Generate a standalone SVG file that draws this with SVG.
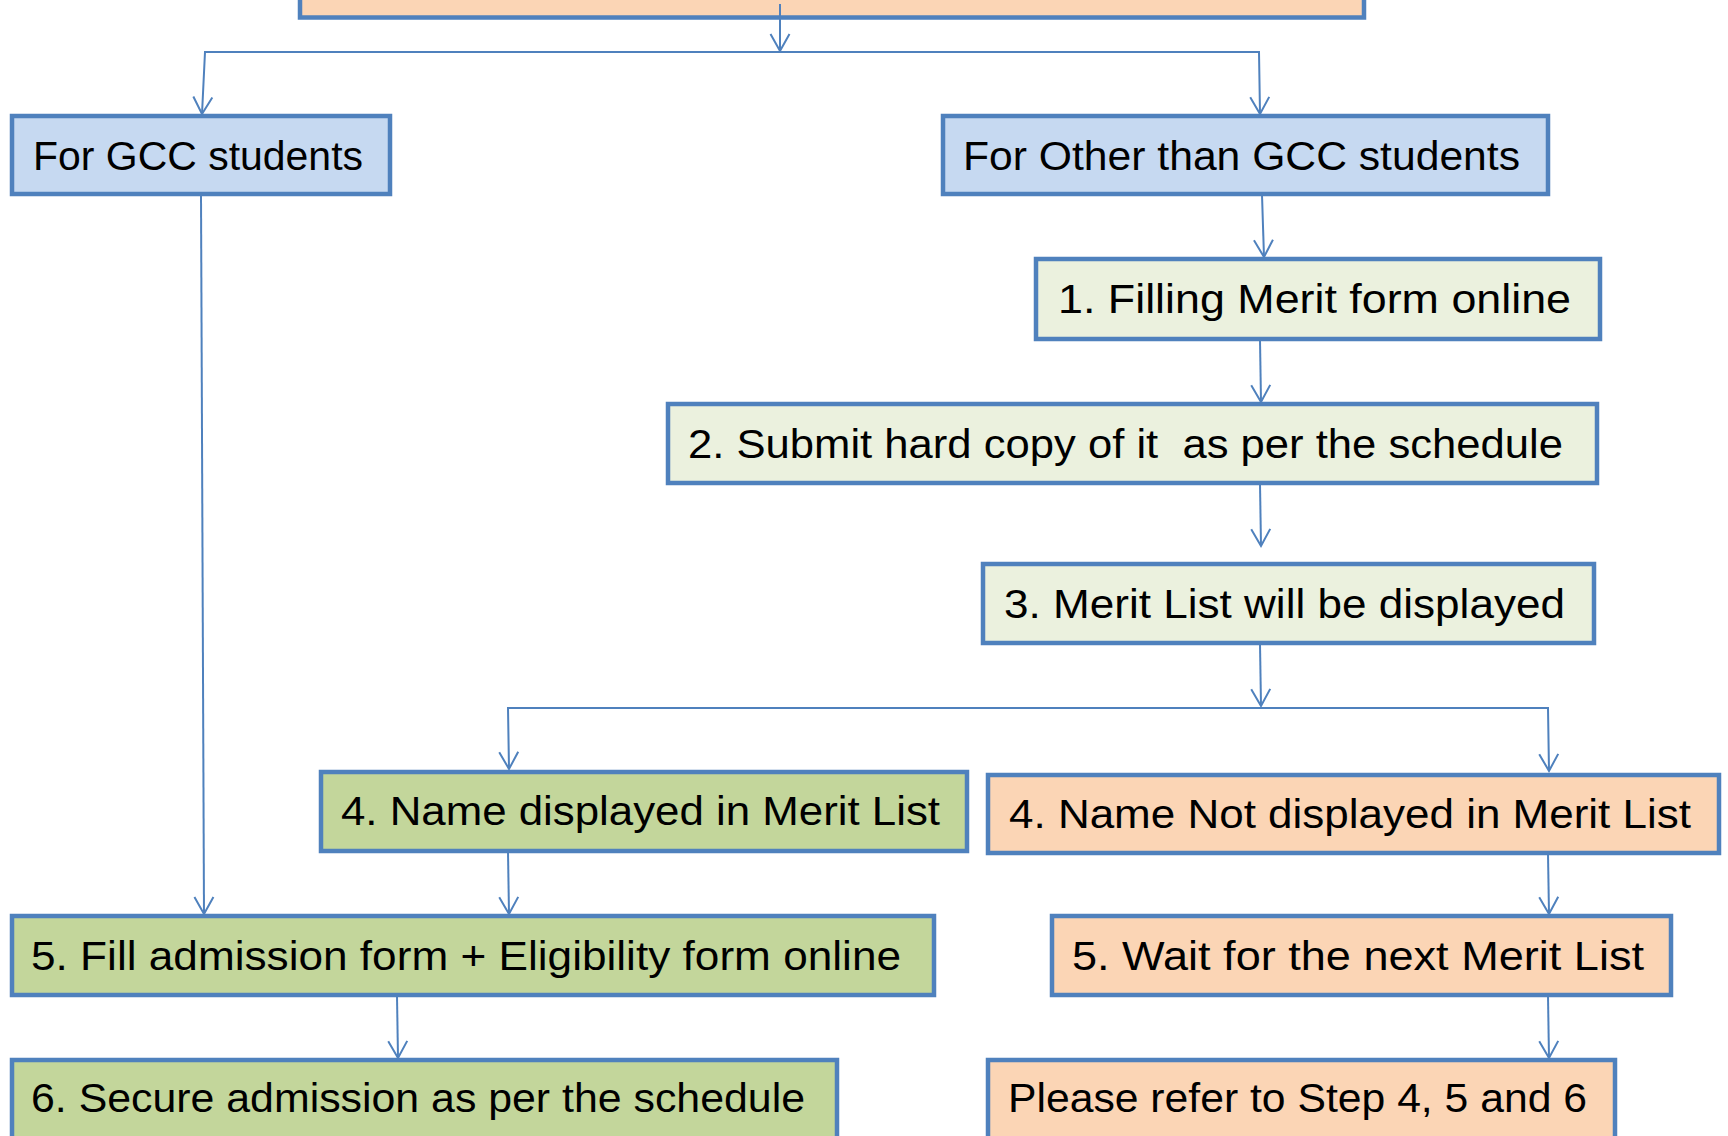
<svg xmlns="http://www.w3.org/2000/svg" width="1728" height="1136" viewBox="0 0 1728 1136">
<defs>
<style>
.box{stroke:#4F81BD;stroke-width:4.5}
.blue{fill:#C6D9F1}
.pale{fill:#EBF1DE}
.green{fill:#C3D69B}
.peach{fill:#FBD5B5}
.lbl{font-family:"Liberation Sans",Arial,sans-serif;font-size:40px;fill:#000;white-space:pre}
.c{fill:none;stroke:#4F81BD;stroke-width:2}
</style>
<marker id="arr" markerUnits="userSpaceOnUse" markerWidth="24" markerHeight="24" viewBox="-20 -12 24 24" refX="0" refY="0" orient="auto-start-reverse">
<path d="M-17,-9.5 L0,0 L-17,9.5" fill="none" stroke="#4F81BD" stroke-width="2"/>
</marker>
</defs>
<rect width="1728" height="1136" fill="#fff"/>
<g id="top"><rect class="box peach" x="300" y="-30" width="1064" height="47.5"/></g>
<g id="gcc"><rect class="box blue" x="12" y="116" width="378" height="78"/><text class="lbl" x="33" y="170" textLength="330" lengthAdjust="spacingAndGlyphs">For GCC students</text></g>
<g id="other"><rect class="box blue" x="943" y="116" width="605" height="78"/><text class="lbl" x="963" y="170" textLength="557" lengthAdjust="spacingAndGlyphs">For Other than GCC students</text></g>
<g id="s1"><rect class="box pale" x="1036" y="259" width="564" height="80"/><text class="lbl" x="1058" y="313" textLength="513" lengthAdjust="spacingAndGlyphs">1. Filling Merit form online</text></g>
<g id="s2"><rect class="box pale" x="668" y="404" width="929" height="79"/><text class="lbl" x="688" y="458" textLength="875" lengthAdjust="spacingAndGlyphs" xml:space="preserve">2. Submit hard copy of it  as per the schedule</text></g>
<g id="s3"><rect class="box pale" x="983" y="564" width="611" height="79"/><text class="lbl" x="1004" y="618" textLength="561" lengthAdjust="spacingAndGlyphs">3. Merit List will be displayed</text></g>
<g id="s4a"><rect class="box green" x="321" y="772" width="646" height="79"/><text class="lbl" x="341" y="825" textLength="599" lengthAdjust="spacingAndGlyphs">4. Name displayed in Merit List</text></g>
<g id="s4b"><rect class="box peach" x="988" y="775" width="731" height="78"/><text class="lbl" x="1009" y="828" textLength="682" lengthAdjust="spacingAndGlyphs">4. Name Not displayed in Merit List</text></g>
<g id="s5a"><rect class="box green" x="12" y="916" width="922" height="79"/><text class="lbl" x="31" y="970" textLength="870" lengthAdjust="spacingAndGlyphs">5. Fill admission form + Eligibility form online</text></g>
<g id="s5b"><rect class="box peach" x="1052" y="916" width="619" height="79"/><text class="lbl" x="1072" y="970" textLength="572" lengthAdjust="spacingAndGlyphs">5. Wait for the next Merit List</text></g>
<g id="s6a"><rect class="box green" x="12" y="1060" width="825" height="90"/><text class="lbl" x="31" y="1112" textLength="774" lengthAdjust="spacingAndGlyphs">6. Secure admission as per the schedule</text></g>
<g id="s6b"><rect class="box peach" x="988" y="1060" width="627" height="90"/><text class="lbl" x="1008" y="1112" textLength="579" lengthAdjust="spacingAndGlyphs">Please refer to Step 4, 5 and 6</text></g>
<g id="connectors">
<path class="c" d="M780,4 L780,51" marker-end="url(#arr)"/>
<path class="c" d="M202,114 L205,52 L1259,52 L1260,114" marker-start="url(#arr)" marker-end="url(#arr)"/>
<path class="c" d="M1262,195 L1264,257" marker-end="url(#arr)"/>
<path class="c" d="M1260,340 L1261,402" marker-end="url(#arr)"/>
<path class="c" d="M1260,484 L1261,546" marker-end="url(#arr)"/>
<path class="c" d="M1260,644 L1261,706"  marker-end="url(#arr)"/>
<path class="c" d="M509,769 L508,708 L1548,708 L1549,771" marker-start="url(#arr)" marker-end="url(#arr)"/>
<path class="c" d="M201,195 L204,914" marker-end="url(#arr)"/>
<path class="c" d="M508,852 L509,914" marker-end="url(#arr)"/>
<path class="c" d="M1548,854 L1549,914" marker-end="url(#arr)"/>
<path class="c" d="M397,996 L398,1058" marker-end="url(#arr)"/>
<path class="c" d="M1548,996 L1549,1058" marker-end="url(#arr)"/>
</g>
</svg>
